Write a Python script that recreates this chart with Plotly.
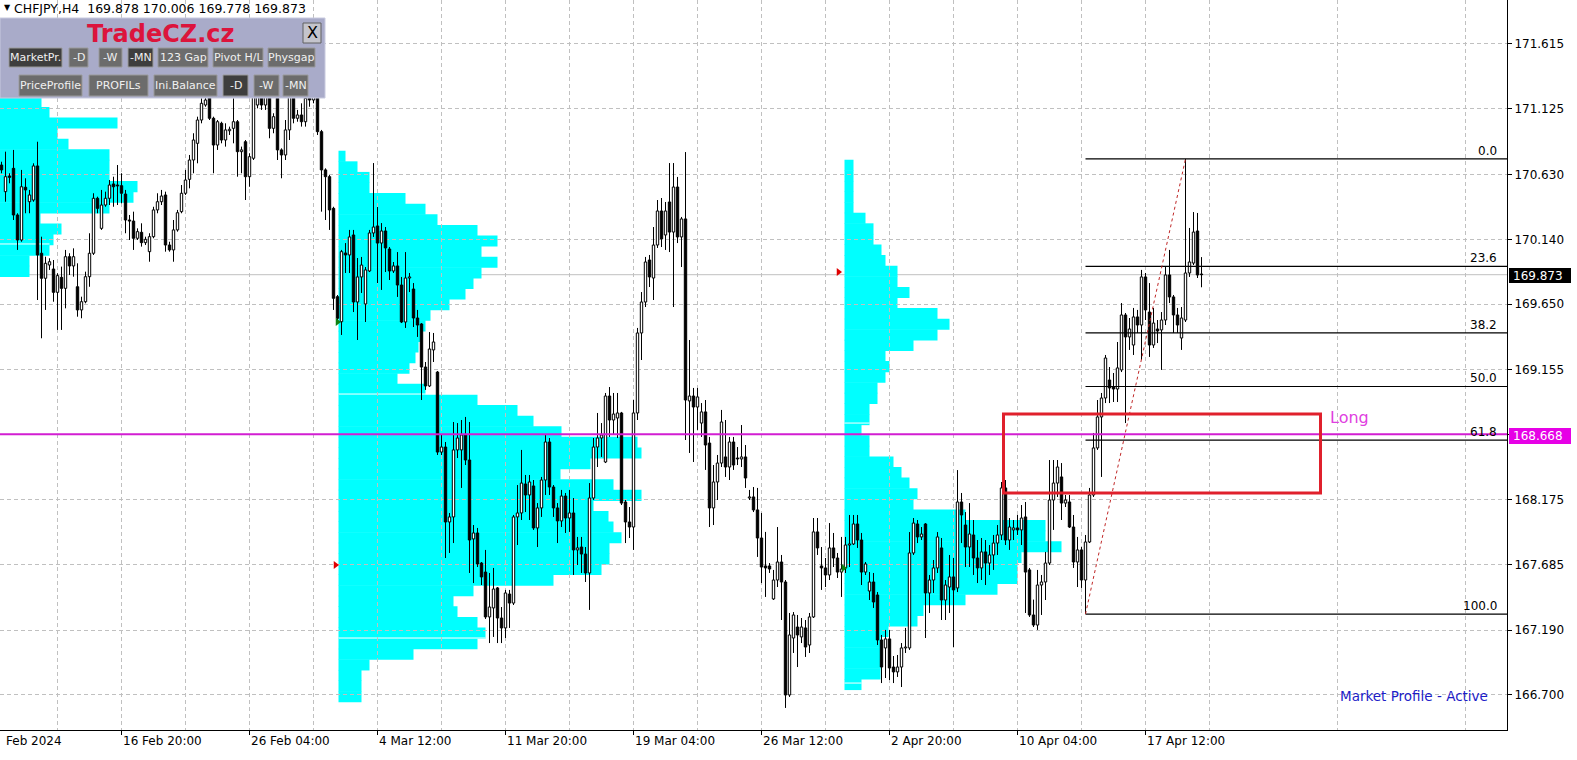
import plotly.graph_objects as go

# ---------------- DATA ----------------
opens = [
170.701,170.500,170.618,170.676,170.324,170.135,170.533,170.424,170.437,170.694,
170.035,169.846,169.946,169.916,169.740,169.853,169.770,170.009,169.939,169.782,
169.607,169.669,169.858,170.035,170.450,170.223,170.399,170.450,170.558,170.550,
170.545,170.482,170.286,170.278,170.148,170.193,170.115,170.047,170.160,170.362,
170.424,170.475,170.097,170.060,170.211,170.349,170.488,170.593,170.739,170.865,
171.041,171.154,171.217,171.054,170.852,171.016,170.890,170.960,170.978,171.028,
170.802,170.877,170.613,170.752,171.154,171.243,171.154,171.217,170.978,171.205,
170.815,170.777,170.966,171.205,171.054,171.079,171.028,171.205,171.192,171.205,
170.953,170.664,170.613,170.374,169.707,169.518,170.037,170.022,170.173,169.667,
169.856,169.652,169.901,170.188,170.241,170.112,170.203,170.067,169.901,169.939,
169.795,169.516,169.848,169.765,169.546,169.501,169.176,169.033,169.305,169.138,
168.534,168.572,168.006,168.044,168.550,168.550,168.663,168.474,167.878,167.923,
167.696,167.628,167.289,167.357,167.508,167.281,167.206,167.462,167.394,168.044,
168.074,168.293,168.210,168.278,167.961,168.112,168.323,168.610,168.270,168.112,
168.014,168.202,168.036,168.074,167.795,167.817,167.764,167.621,168.187,168.572,
168.640,168.459,168.957,168.776,168.791,168.829,168.157,168.006,167.968,168.829,
169.433,169.667,169.984,169.848,170.097,170.354,170.173,170.422,170.195,170.535,
170.158,170.294,168.920,168.957,168.874,168.753,168.837,168.602,168.112,168.308,
168.451,168.497,168.421,168.610,168.489,168.482,168.497,168.187,168.195,168.097,
167.885,167.674,167.674,167.425,167.568,167.704,167.553,166.700,167.130,167.213,
167.138,167.206,167.077,167.289,167.931,167.674,167.659,167.606,167.810,167.734,
167.628,167.659,167.832,167.840,167.991,167.870,167.628,167.485,167.553,167.455,
167.115,167.055,167.123,166.911,166.874,166.911,167.055,167.055,167.772,167.991,
167.893,167.991,167.470,167.568,167.659,167.810,167.417,167.515,167.591,167.508,
168.157,167.983,167.817,167.908,167.734,167.659,167.780,167.696,167.757,167.847,
167.908,168.263,167.870,167.946,167.961,167.946,168.044,167.644,167.304,167.228,
167.530,167.553,167.696,168.172,168.300,168.346,168.149,168.157,167.968,167.704,
167.795,167.568,167.855,168.210,168.565,168.799,168.942,169.078,169.025,169.010,
169.154,169.569,169.403,169.342,169.554,169.493,169.856,169.591,169.342,169.463,
169.456,169.531,169.871,169.705,169.569,169.395,169.531,169.886,169.961,170.203,
169.878]

highs = [
170.726,170.802,170.639,170.815,170.337,170.664,170.601,170.513,170.714,170.877,
170.160,170.009,169.997,169.984,169.884,169.934,170.060,170.035,170.072,169.959,
169.707,169.896,170.186,170.488,170.462,170.513,170.500,170.588,170.613,170.701,
170.639,170.513,170.324,170.349,170.223,170.261,170.160,170.186,170.386,170.488,
170.513,170.500,170.122,170.286,170.362,170.550,170.664,170.777,170.941,171.066,
171.205,171.243,171.305,171.066,171.041,171.028,171.016,170.991,171.205,171.041,
170.840,170.890,170.790,171.267,171.293,171.318,171.267,171.267,171.092,171.267,
170.827,171.041,171.293,171.280,171.117,171.167,171.267,171.318,171.343,171.293,
170.966,170.676,170.626,170.386,169.720,170.060,170.112,170.211,170.211,169.999,
170.007,169.931,170.211,170.716,170.384,170.263,170.233,170.082,169.969,170.044,
169.856,170.044,169.886,169.810,169.607,169.508,169.214,169.440,169.433,169.146,
168.663,168.610,168.074,168.761,168.753,168.776,168.799,168.761,167.983,167.961,
167.704,167.795,167.621,167.659,167.515,167.364,167.493,167.493,168.059,168.285,
168.550,168.361,168.361,168.323,168.149,168.346,168.663,168.640,168.285,168.149,
168.248,168.225,168.248,168.187,167.893,167.893,167.817,168.300,168.640,168.829,
168.753,168.980,169.025,168.980,168.980,168.837,168.172,168.119,168.927,169.471,
169.742,170.007,170.022,170.233,170.437,170.452,170.422,170.716,170.716,170.611,
170.309,170.799,169.380,169.018,169.018,168.904,168.927,168.648,168.436,168.512,
168.852,168.776,168.648,168.648,168.572,168.738,168.587,168.248,168.270,168.263,
168.074,167.931,167.696,167.644,167.968,167.757,167.568,167.319,167.326,167.304,
167.281,167.266,167.319,168.036,168.036,167.817,167.734,167.998,167.923,167.772,
167.893,167.893,168.059,168.059,168.059,167.923,167.704,167.628,167.621,167.477,
167.153,167.191,167.191,166.994,167.002,167.092,167.206,167.930,168.036,168.021,
167.968,167.998,167.606,167.719,167.930,167.885,167.568,167.757,167.734,168.398,
168.225,168.081,168.149,168.021,167.870,167.885,167.870,167.832,167.908,167.983,
168.308,168.323,168.036,168.021,168.059,168.134,168.157,167.659,167.420,167.644,
167.606,167.780,168.474,168.474,168.474,168.451,168.210,168.210,168.059,167.893,
167.817,167.908,168.263,168.678,168.927,168.980,169.267,169.176,169.131,169.365,
169.659,169.584,169.546,169.622,169.607,169.909,169.886,169.810,169.622,169.531,
169.591,169.931,170.060,169.720,169.622,169.629,170.747,170.226,170.346,170.339,
170.006]

lows = [
170.639,170.424,170.563,170.286,170.060,170.122,170.337,170.337,170.424,169.682,
169.393,169.607,169.909,169.669,169.456,169.456,169.619,169.871,169.858,169.556,
169.544,169.657,169.782,170.022,170.337,170.211,170.386,170.399,170.386,170.399,
170.412,170.186,170.135,170.060,170.135,170.085,170.097,169.971,170.148,170.337,
170.399,170.047,170.047,169.971,170.198,170.337,170.475,170.525,170.639,170.714,
171.016,171.141,171.041,170.639,170.815,170.865,170.840,170.928,170.865,170.613,
170.639,170.437,170.537,170.739,171.129,171.117,171.117,170.903,170.941,170.739,
170.601,170.739,170.890,171.016,171.028,170.991,170.991,171.141,171.167,170.928,
170.349,170.286,170.211,169.607,169.506,169.418,169.886,169.886,169.591,169.380,
169.735,169.516,169.893,170.158,169.810,169.758,169.893,169.833,169.886,169.705,
169.508,169.471,169.742,169.478,169.403,168.927,169.003,169.025,169.214,168.512,
168.512,167.734,167.772,167.847,168.489,168.263,168.436,167.621,167.545,167.666,
167.530,167.274,167.092,167.138,167.092,167.092,167.130,167.206,167.379,167.832,
168.021,168.081,168.021,167.946,167.817,168.044,168.210,168.210,168.044,167.847,
167.968,167.923,167.931,167.606,167.681,167.621,167.553,167.342,168.172,168.421,
168.497,168.451,168.648,168.663,168.640,168.134,167.847,167.885,167.795,168.776,
169.229,169.629,169.780,169.682,170.075,170.082,170.060,170.044,169.629,170.112,
169.931,168.625,168.527,168.459,168.701,168.648,168.399,167.968,167.983,168.172,
168.421,168.346,168.323,168.399,168.436,168.421,168.263,168.172,168.081,167.742,
167.545,167.440,167.621,167.417,167.515,167.266,166.602,166.685,167.017,166.911,
167.092,166.987,167.017,167.281,167.757,167.493,167.515,167.568,167.666,167.583,
167.440,167.621,167.666,167.832,167.810,167.530,167.606,167.417,167.357,167.077,
166.790,166.828,166.813,166.790,166.836,166.760,167.017,167.040,167.757,167.847,
167.870,167.130,167.319,167.470,167.621,167.266,167.266,167.319,167.062,167.477,
167.847,167.666,167.666,167.606,167.545,167.568,167.530,167.606,167.644,167.757,
167.870,167.832,167.795,167.870,167.908,167.832,167.319,167.289,167.213,167.191,
167.304,167.417,167.681,167.946,168.195,168.021,168.119,167.961,167.659,167.515,
167.508,167.311,167.847,168.195,168.550,168.346,168.904,168.904,168.912,168.912,
169.138,168.753,169.305,169.267,169.433,169.229,169.531,169.252,169.320,169.357,
169.154,169.493,169.659,169.433,169.433,169.305,169.516,169.856,169.946,169.848,
169.778]

closes = [
170.664,170.613,170.608,170.324,170.135,170.537,170.513,170.475,170.694,170.022,
169.846,169.959,169.971,169.740,169.866,169.770,170.009,169.939,170.009,169.607,
169.669,169.858,170.035,170.450,170.374,170.399,170.450,170.550,170.537,170.543,
170.488,170.286,170.278,170.148,170.198,170.115,170.140,170.160,170.362,170.424,
170.467,170.097,170.060,170.211,170.341,170.488,170.588,170.739,170.890,171.041,
171.167,171.192,171.054,170.852,171.028,170.890,170.966,170.971,171.028,170.802,
170.815,170.613,170.764,171.217,171.255,171.154,171.217,170.978,171.066,170.815,
170.777,170.966,171.217,171.054,171.079,171.028,171.205,171.192,171.217,170.953,
170.664,170.613,170.362,169.695,169.544,170.047,170.022,170.158,169.667,169.856,
169.946,169.909,170.188,170.233,170.112,170.203,170.075,169.901,169.939,169.795,
169.516,169.848,169.856,169.546,169.493,169.176,169.033,169.312,169.365,168.534,
168.572,168.006,168.044,168.550,168.640,168.663,168.474,167.870,167.923,167.689,
167.591,167.289,167.364,167.500,167.281,167.206,167.470,167.394,168.044,168.074,
168.300,168.210,168.308,167.961,168.112,168.323,168.610,168.270,168.112,168.014,
168.202,168.036,168.074,167.795,167.810,167.764,167.621,168.187,168.572,168.640,
168.663,168.957,168.776,168.821,168.829,168.149,168.006,167.968,168.829,169.433,
169.667,169.969,169.856,170.097,170.354,170.143,170.354,170.195,170.535,170.158,
170.294,168.927,168.957,168.874,168.950,168.837,168.587,168.112,168.308,168.451,
168.761,168.421,168.610,168.436,168.482,168.497,168.338,168.195,168.097,167.885,
167.666,167.659,167.651,167.568,167.704,167.553,166.700,167.153,167.304,167.153,
167.213,167.062,167.289,167.931,167.810,167.659,167.606,167.810,167.734,167.628,
167.651,167.832,167.840,167.991,167.870,167.628,167.689,167.553,167.402,167.115,
166.911,167.123,166.904,166.874,166.911,167.055,167.062,167.772,167.998,167.893,
167.915,167.470,167.568,167.659,167.893,167.417,167.530,167.591,167.493,168.157,
168.059,167.817,167.915,167.734,167.659,167.780,167.696,167.757,167.847,167.908,
168.263,167.870,167.968,167.961,167.946,168.036,167.628,167.304,167.228,167.530,
167.553,167.696,168.172,168.300,168.421,168.149,168.172,167.968,167.704,167.795,
167.568,167.855,168.210,168.565,168.799,168.942,169.244,169.018,169.010,169.169,
169.569,169.403,169.463,169.554,169.493,169.856,169.607,169.342,169.508,169.448,
169.531,169.871,169.705,169.569,169.493,169.546,169.886,169.969,170.195,169.871,
169.873]

x_tick_bars = [30, 62, 94, 126, 158, 190, 222, 254, 286]
x_tick_labels = ["16 Feb 20:00", "26 Feb 04:00", "4 Mar 12:00", "11 Mar 20:00",
                 "19 Mar 04:00", "26 Mar 12:00", "2 Apr 20:00", "10 Apr 04:00", "17 Apr 12:00"]
x_minor_bars = [14, 46, 78, 110, 142, 174, 206, 238, 270, 302, 334, 366]
first_label = "Feb 2024"
y_ticks = [166.700, 167.190, 167.685, 168.175, 168.665, 169.155, 169.650,
           170.140, 170.630, 171.125, 171.615]

title_text = "CHFJPY,H4  169.878 170.006 169.778 169.873"
last_price = 169.873
magenta_level = 168.668

fib_pcts = [0.0, 23.6, 38.2, 50.0, 61.8, 100.0]
fib_high, fib_low = 170.747, 167.311
fib_low_bar, fib_high_bar = 271, 296

zone_top, zone_bottom = 168.821, 168.225
zone_x0, zone_x1 = 250.5, 329.75

profile_step = 0.08
profile0_top, profile0_start = 171.298, -1.0
profile0_len = [11, 11, 13, 30, 15, 17.75, 28, 28, 28, 35, 34, 28, 10.75, 16, 14, 13, 8, 8]
profile1_top, profile1_start = 170.807, 84.25
profile1_len = [1.75, 4.75, 7.75, 7.75, 16.75, 21.75, 24.75, 34.75, 39.75, 35.75,
                39.75, 35.75, 33.75, 31.75, 27.75, 23, 21.75, 20.5, 20, 19.25,
                17.75, 14.75, 21.75, 34.75, 44.75, 48.75, 55.75, 74.75, 75.75, 63,
                55.5, 68.75, 75.75, 63.75, 67.5, 68.75, 70.75, 67.75, 67.75, 65.75,
                53.75, 33.75, 28.75, 29.75, 34.75, 36.75, 34.75, 18.75, 7.75, 5.75,
                5.75, 5.75]
profile2_top, profile2_start = 170.739, 210.75
profile2_len = [2.25, 2.25, 2.25, 2.25, 2.25, 5.25, 7.25, 7.25, 9.25, 10.25,
                13.25, 13.25, 16.25, 13.25, 23.25, 26.25, 23.25, 17.25, 10.25, 11.25,
                10.25, 8.25, 8.25, 6.25, 6.25, 4.25, 6.25, 6.25, 12.25, 14.25,
                16.25, 18.25, 17.25, 30.25, 50.25, 50.25, 54.25, 44.25, 43.25, 43.25,
                38.25, 30.25, 19.75, 18.25, 11, 9, 9, 9, 9, 4.25]
profile_sep_levels = [170.105, 168.972, 167.130, 168.753, 166.790]
profile_sep_x0 = [-1.0, 84.25, 84.25, 210.75, 210.75]
profile_sep_x1 = [12.0, 119.5, 121.0, 217.0, 215.0]

arrow_bars = [83.5, 84.0, 209.25, 210.5]
arrow_prices = [167.681, 169.516, 169.893, 167.659]
arrow_colors = ["#e00000", "#108010", "#e00000", "#108010"]

panel_row1 = [("MarketPr.", 9, 62, True), ("-D", 69, 88, False), ("-W", 99, 122, False),
              ("-MN", 128, 153, True), ("123 Gap", 158, 208, False),
              ("Pivot H/L", 213, 263, False), ("Physgap", 268, 315, False)]
panel_row2 = [("PriceProfile", 19, 82, False), ("PROFILs", 89, 148, False),
              ("Ini.Balance", 154, 217, False), ("-D", 223, 248, True),
              ("-W", 254, 279, False), ("-MN", 283, 308, False)]

# ---------------- FIGURE ----------------
W, H = 1577, 760
PW, PH = 1507, 730
FONT = "DejaVu Sans"


def pxx(x):
    return x / PW


def pxy(y):
    return 1 - y / PH


n = len(closes)
idx = list(range(n))
bases, heights, fills = [], [], []
wx, wy = [], []
for i in idx:
    o, h, l, c = opens[i], highs[i], lows[i], closes[i]
    top, bot = max(o, c), min(o, c)
    bases.append(bot)
    heights.append(max(top - bot, 0.004))
    fills.append("white" if c >= o else "black")
    wx += [i, i, None, i, i, None]
    wy += [h, top, None, bot, l, None]

fig = go.Figure()
fig.add_trace(go.Bar(x=idx, y=heights, base=bases, width=0.6,
                     marker=dict(color=fills, line=dict(color="black", width=1)),
                     hoverinfo="skip", showlegend=False))
fig.add_trace(go.Scatter(x=wx, y=wy, mode="lines", line=dict(color="black", width=1),
                         hoverinfo="skip", showlegend=False))
fig.add_trace(go.Scatter(x=arrow_bars, y=arrow_prices, mode="markers",
                         marker=dict(symbol="triangle-right", size=7, color=arrow_colors),
                         hoverinfo="skip", showlegend=False))

shapes = []
for top, start, lens in [(profile0_top, profile0_start, profile0_len),
                         (profile1_top, profile1_start, profile1_len),
                         (profile2_top, profile2_start, profile2_len)]:
    for k, L in enumerate(lens):
        y1 = top - k * profile_step
        y0 = y1 - profile_step
        shapes.append(dict(type="rect", xref="x", yref="y", x0=start, x1=start + L,
                           y0=y0 - 0.002, y1=y1 + 0.002, fillcolor="#00ffff",
                           line=dict(width=0), layer="below"))
for lv, a, b in zip(profile_sep_levels, profile_sep_x0, profile_sep_x1):
    shapes.append(dict(type="line", xref="x", yref="y", x0=a, x1=b, y0=lv, y1=lv,
                       line=dict(color="white", width=1), layer="below"))

shapes.append(dict(type="line", xref="paper", yref="y", x0=0, x1=1, y0=last_price,
                   y1=last_price, line=dict(color="#c0c0c0", width=1), layer="between"))
shapes.append(dict(type="line", xref="paper", yref="y", x0=0, x1=1, y0=magenta_level,
                   y1=magenta_level, line=dict(color="#d21ed2", width=2), layer="above"))
annotations = []
for pct in fib_pcts:
    lv = fib_high - (fib_high - fib_low) * pct / 100.0
    shapes.append(dict(type="line", xref="x", yref="y", x0=fib_low_bar, x1=376.5,
                       y0=lv, y1=lv, line=dict(color="black", width=1.2), layer="above"))
    annotations.append(dict(xref="paper", yref="y", x=pxx(1498), y=lv, text=f"{pct:.1f}",
                            showarrow=False, xanchor="right", yanchor="bottom",
                            font=dict(family=FONT, size=12, color="black"), borderpad=0))
shapes.append(dict(type="line", xref="x", yref="y", x0=fib_low_bar, y0=fib_low,
                   x1=fib_high_bar, y1=fib_high,
                   line=dict(color="#c02828", width=1, dash="dot"), layer="above"))
shapes.append(dict(type="rect", xref="x", yref="y", x0=zone_x0, x1=zone_x1, y0=zone_bottom,
                   y1=zone_top, line=dict(color="#e0202c", width=3),
                   fillcolor="rgba(0,0,0,0)", layer="above"))
annotations.append(dict(xref="paper", yref="paper", x=pxx(1328), y=pxy(417), text="Long",
                        showarrow=False, xanchor="left", yanchor="middle",
                        font=dict(family=FONT, size=16, color="#e040e0")))

shapes.append(dict(type="rect", xref="paper", yref="paper", x0=pxx(1509), x1=pxx(1571),
                   y0=pxy(283), y1=pxy(268), fillcolor="black", line=dict(width=0),
                   layer="above"))
annotations.append(dict(xref="paper", yref="paper", x=pxx(1511), y=pxy(275.5),
                        text=f"{last_price:.3f}", showarrow=False, xanchor="left",
                        yanchor="middle", font=dict(family=FONT, size=12, color="white")))
shapes.append(dict(type="rect", xref="paper", yref="paper", x0=pxx(1509), x1=pxx(1571),
                   y0=pxy(444), y1=pxy(428), fillcolor="#e600e6", line=dict(width=0),
                   layer="above"))
annotations.append(dict(xref="paper", yref="paper", x=pxx(1511), y=pxy(436),
                        text=f"{magenta_level:.3f}", showarrow=False, xanchor="left",
                        yanchor="middle", font=dict(family=FONT, size=12, color="white")))

annotations.append(dict(xref="paper", yref="paper", x=pxx(4), y=0, text=first_label,
                        showarrow=False, xanchor="left", yanchor="top", yshift=-2,
                        font=dict(family=FONT, size=12, color="black")))
for b, t in zip(x_tick_bars, x_tick_labels):
    annotations.append(dict(xref="x", yref="paper", x=b, y=0, text=t, showarrow=False,
                            xanchor="left", yanchor="top", yshift=-2, xshift=-1,
                            font=dict(family=FONT, size=12, color="black")))

annotations.append(dict(xref="paper", yref="paper", x=pxx(2), y=pxy(8), text="▼",
                        showarrow=False, xanchor="left", yanchor="middle",
                        font=dict(family=FONT, size=8, color="black")))
annotations.append(dict(xref="paper", yref="paper", x=pxx(12), y=pxy(8.5), text=title_text,
                        showarrow=False, xanchor="left", yanchor="middle",
                        font=dict(family=FONT, size=12.5, color="black")))

annotations.append(dict(xref="paper", yref="paper", x=pxx(1490), y=pxy(696),
                        text="Market Profile - Active", showarrow=False, xanchor="right",
                        yanchor="middle", font=dict(family=FONT, size=13.5, color="#1c1cc8")))

shapes.append(dict(type="rect", xref="paper", yref="paper", x0=pxx(0), x1=pxx(325),
                   y0=pxy(98), y1=pxy(18), fillcolor="#a9abc9",
                   line=dict(color="#c8cadf", width=1), layer="above"))
annotations.append(dict(xref="paper", yref="paper", x=pxx(161), y=pxy(34),
                        text="<b>TradeCZ.cz</b>", showarrow=False, xanchor="center",
                        yanchor="middle", font=dict(family=FONT, size=24, color="#dc143c")))
shapes.append(dict(type="rect", xref="paper", yref="paper", x0=pxx(303), x1=pxx(321),
                   y0=pxy(43), y1=pxy(23), fillcolor="#c4c4cc",
                   line=dict(color="#606060", width=1), layer="above"))
annotations.append(dict(xref="paper", yref="paper", x=pxx(312), y=pxy(33), text="X",
                        showarrow=False, xanchor="center", yanchor="middle",
                        font=dict(family=FONT, size=16, color="black")))
for row, (ya, yb) in [(panel_row1, (48, 67)), (panel_row2, (75, 96))]:
    for label, xa, xb, dark in row:
        shapes.append(dict(type="rect", xref="paper", yref="paper", x0=pxx(xa), x1=pxx(xb),
                           y0=pxy(yb), y1=pxy(ya),
                           fillcolor="#3e3e3e" if dark else "#6c6c6c",
                           line=dict(color="#9a9a9a", width=1), layer="above"))
        annotations.append(dict(xref="paper", yref="paper", x=pxx((xa + xb) / 2),
                                y=pxy((ya + yb) / 2), text=label, showarrow=False,
                                xanchor="center", yanchor="middle",
                                font=dict(family=FONT, size=11, color="#f0f0f0")))

fig.update_layout(
    width=W, height=H, autosize=False,
    margin=dict(l=0, r=W - PW, t=0, b=H - PH),
    paper_bgcolor="white", plot_bgcolor="white",
    barmode="overlay", showlegend=False, hovermode=False,
    shapes=shapes, annotations=annotations,
    xaxis=dict(range=[-0.375, 376.375], tickvals=x_tick_bars, showticklabels=False,
               ticks="outside", ticklen=4, tickcolor="black",
               showgrid=True, gridcolor="#c0c0c0", griddash="4px,3px", gridwidth=1,
               minor=dict(tickvals=x_minor_bars, showgrid=True, gridcolor="#c0c0c0",
                          griddash="4px,3px", ticks=""),
               showline=True, linecolor="black", linewidth=1, zeroline=False,
               fixedrange=True),
    yaxis=dict(range=[166.4355, 171.947], side="right", tickvals=y_ticks,
               ticktext=[f"{v:.3f}" for v in y_ticks], ticks="outside", ticklen=4,
               tickcolor="black", tickfont=dict(family=FONT, size=12, color="black"),
               showgrid=True, gridcolor="#c0c0c0", griddash="4px,3px", gridwidth=1,
               showline=True, linecolor="black", linewidth=1, zeroline=False,
               fixedrange=True),
)

fig.write_html("out.html", config={"displayModeBar": False},
               post_script="document.body.style.margin='0px';document.body.style.padding='0px';"
                           "document.documentElement.style.overflow='hidden';")
